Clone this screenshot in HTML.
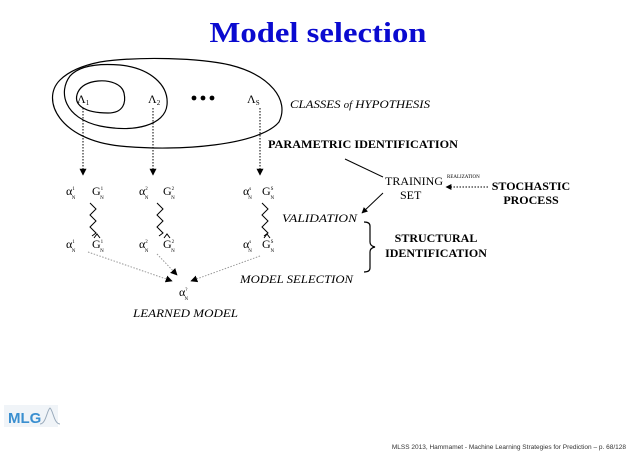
<!DOCTYPE html>
<html><head><meta charset="utf-8"><style>
html,body{margin:0;padding:0;background:#fff;width:638px;height:451px;overflow:hidden}
svg{display:block}
text{font-family:"Liberation Serif",serif}
</style></head><body>
<svg width="638" height="451" viewBox="0 0 638 451" xmlns="http://www.w3.org/2000/svg">
<defs>
<marker id="ah" viewBox="0 0 10 10" refX="9" refY="5" markerWidth="7" markerHeight="7" orient="auto"><path d="M0,0 L10,5 L0,10 z" fill="#000"/></marker>
<marker id="ahs" viewBox="0 0 10 10" refX="9" refY="5" markerWidth="6" markerHeight="6" orient="auto"><path d="M0,0 L10,5 L0,10 z" fill="#000"/></marker>
</defs>
<text x="318" y="42" font-size="29" font-weight="bold" fill="#0a0ad0" text-anchor="middle" textLength="217" lengthAdjust="spacingAndGlyphs">Model selection</text>
<path d="M60,80 C40,100 60,140 120,146 C180,152 260,145 279,122 C290,100 270,75 230,65 C200,58 140,56 100,62 C80,66 68,72 60,80 Z" fill="none" stroke="#000" stroke-width="1.2"/>
<path d="M70,76 C58,92 64,118 100,126 C135,133 165,125 167,105 C169,85 150,68 120,65 C95,63 78,67 70,76 Z" fill="none" stroke="#000" stroke-width="1.2"/>
<path d="M78,92 C72,105 85,113 108,113 C124,113 126,102 124,93 C122,84 110,80 98,81 C88,82 81,86 78,92 Z" fill="none" stroke="#000" stroke-width="1.2"/>
<text x="77" y="103" font-size="12">Λ<tspan font-size="7" dy="2">1</tspan></text>
<text x="148" y="103" font-size="12">Λ<tspan font-size="7" dy="2">2</tspan></text>
<text x="247" y="103" font-size="12">Λ<tspan font-size="7" dy="2">S</tspan></text>
<circle cx="194" cy="98" r="2.4"/><circle cx="203" cy="98" r="2.4"/><circle cx="212" cy="98" r="2.4"/>
<text x="290" y="108" font-size="12" font-style="italic" textLength="140" lengthAdjust="spacingAndGlyphs">CLASSES <tspan font-size="10">of</tspan> HYPOTHESIS</text>
<g stroke="#000" stroke-dasharray="1.5,1.5" stroke-width="1">
<line x1="83" y1="108" x2="83" y2="175" marker-end="url(#ah)"/>
<line x1="153" y1="108" x2="153" y2="175" marker-end="url(#ah)"/>
<line x1="260" y1="108" x2="260" y2="175" marker-end="url(#ah)"/>
</g>
<text x="268" y="148" font-size="12" font-weight="bold" textLength="190" lengthAdjust="spacingAndGlyphs">PARAMETRIC IDENTIFICATION</text>
<g font-size="12">
<text x="66" y="195">α<tspan font-size="5" dy="-5">1</tspan><tspan font-size="5" dx="-3" dy="9">N</tspan></text>
<text x="92" y="195">G<tspan font-size="5" dy="-5">1</tspan><tspan font-size="5" dx="-3" dy="9">N</tspan></text>
<text x="139" y="195">α<tspan font-size="5" dy="-5">2</tspan><tspan font-size="5" dx="-3" dy="9">N</tspan></text>
<text x="163" y="195">G<tspan font-size="5" dy="-5">2</tspan><tspan font-size="5" dx="-3" dy="9">N</tspan></text>
<text x="243" y="195">α<tspan font-size="5" dy="-5">s</tspan><tspan font-size="5" dx="-3" dy="9">N</tspan></text>
<text x="262" y="195">G<tspan font-size="5" dy="-5">S</tspan><tspan font-size="5" dx="-3" dy="9">N</tspan></text>
<text x="66" y="248">α<tspan font-size="5" dy="-5">1</tspan><tspan font-size="5" dx="-3" dy="9">N</tspan></text>
<text x="92" y="248">G<tspan font-size="5" dy="-5">1</tspan><tspan font-size="5" dx="-3" dy="9">N</tspan></text>
<text x="139" y="248">α<tspan font-size="5" dy="-5">2</tspan><tspan font-size="5" dx="-3" dy="9">N</tspan></text>
<text x="163" y="248">G<tspan font-size="5" dy="-5">2</tspan><tspan font-size="5" dx="-3" dy="9">N</tspan></text>
<text x="243" y="248">α<tspan font-size="5" dy="-5">s</tspan><tspan font-size="5" dx="-3" dy="9">N</tspan></text>
<text x="262" y="248">G<tspan font-size="5" dy="-5">S</tspan><tspan font-size="5" dx="-3" dy="9">N</tspan></text>
<text x="179" y="296">α<tspan font-size="5" dy="-5">?</tspan><tspan font-size="5" dx="-3" dy="9">N</tspan></text>
</g>
<g fill="none" stroke="#000" stroke-width="1">
<path d="M90,203 l6,6 l-6,6 l6,6 l-6,6 l6,6 l-4,3"/>
<path d="M157,203 l6,6 l-6,6 l6,6 l-6,6 l6,6 l-4,3"/>
<path d="M262,203 l6,6 l-6,6 l6,6 l-6,6 l6,6 l-4,3"/>
<path d="M94,238 l3,-4 l3,4"/><path d="M164,238 l3,-4 l3,4"/><path d="M264,238 l3,-4 l3,4"/>
</g>
<g stroke="#999" stroke-dasharray="1.5,1.5" stroke-width="1">
<line x1="88" y1="252" x2="172" y2="281" marker-end="url(#ah)"/>
<line x1="157" y1="254" x2="177" y2="275" marker-end="url(#ah)"/>
<line x1="260" y1="256" x2="191" y2="281" marker-end="url(#ah)"/>
</g>
<text x="133" y="317" font-size="12" font-style="italic" textLength="105" lengthAdjust="spacingAndGlyphs">LEARNED MODEL</text>
<text x="240" y="283" font-size="12" font-style="italic" textLength="113" lengthAdjust="spacingAndGlyphs">MODEL SELECTION</text>
<text x="282" y="222" font-size="12" font-style="italic" textLength="75" lengthAdjust="spacingAndGlyphs">VALIDATION</text>
<line x1="345" y1="159" x2="383" y2="177" stroke="#000"/>
<text x="385" y="185" font-size="12">TRAINING</text>
<text x="400" y="199" font-size="12">SET</text>
<line x1="383" y1="193" x2="362" y2="213" stroke="#000" marker-end="url(#ahs)"/>
<text x="447" y="178" font-size="5">REALIZATION</text>
<line x1="488" y1="187" x2="446" y2="187" stroke="#000" stroke-dasharray="1.5,1.5" marker-end="url(#ahs)"/>
<text x="531" y="190" font-size="12" font-weight="bold" text-anchor="middle">STOCHASTIC</text>
<text x="531" y="204" font-size="12" font-weight="bold" text-anchor="middle">PROCESS</text>
<path d="M364,222 q6,0 6,4 v16 q0,4 5,5 q-5,1 -5,5 v16 q0,4 -6,4" fill="none" stroke="#000" stroke-width="1.2"/>
<text x="436" y="242" font-size="12" font-weight="bold" text-anchor="middle">STRUCTURAL</text>
<text x="436" y="257" font-size="12" font-weight="bold" text-anchor="middle">IDENTIFICATION</text>
<rect x="4" y="405" width="54" height="22" fill="#f0f4f8"/>
<text x="8" y="423" font-size="15" font-weight="bold" fill="#3a8fd0" style="font-family:'Liberation Sans',sans-serif">MLG</text>
<path d="M40,424 C46,424 47,410 50,408 C53,410 54,424 60,424" fill="none" stroke="#9ab" stroke-width="1"/>
<text x="626" y="449" font-size="6.5" text-anchor="end" fill="#333" style="font-family:'Liberation Sans',sans-serif">MLSS 2013, Hammamet - Machine Learning Strategies for Prediction – p. 68/128</text>
</svg>
</body></html>
